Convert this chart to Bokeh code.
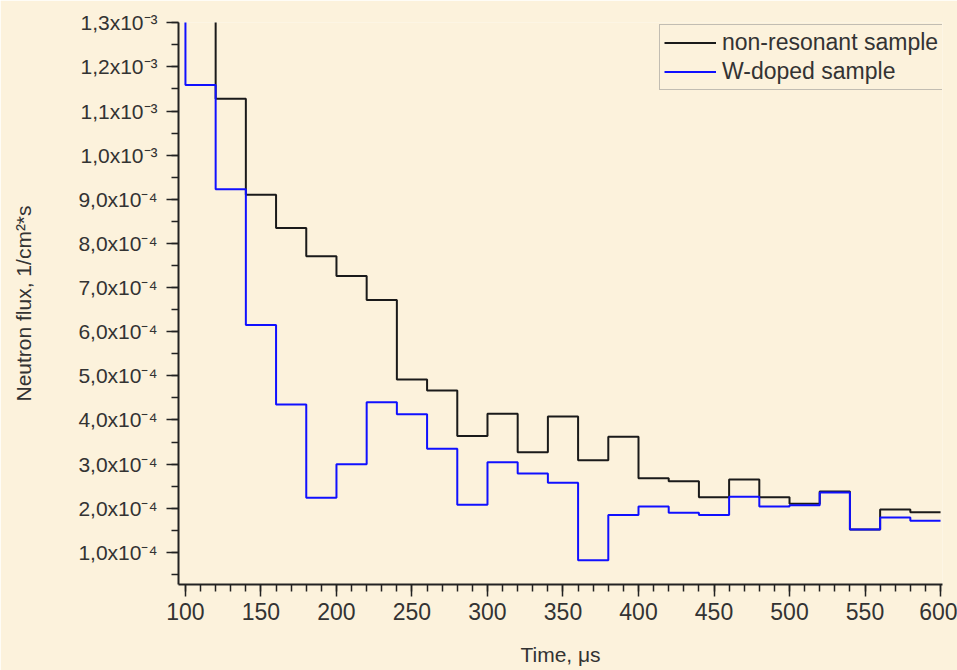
from bokeh.plotting import figure
from bokeh.models import SingleIntervalTicker, CustomJSTickFormatter, Range1d, Legend, LegendItem
from bokeh.embed import file_html
from bokeh.resources import INLINE

# bin edges (µs)
time_edges = [100, 120, 140, 160, 180, 200, 220, 240, 260, 280, 300, 320, 340, 360,
              380, 400, 420, 440, 460, 480, 500, 520, 540, 560, 580, 600]
# neutron flux per bin (1/cm^2*s); first bin is above the visible range
nonresonant = [1.45e-3, 1.128e-3, 9.10e-4, 8.35e-4, 7.71e-4, 7.26e-4, 6.72e-4, 4.92e-4,
               4.67e-4, 3.64e-4, 4.14e-4, 3.27e-4, 4.08e-4, 3.09e-4, 3.62e-4, 2.68e-4,
               2.61e-4, 2.25e-4, 2.65e-4, 2.25e-4, 2.10e-4, 2.38e-4, 1.52e-4, 1.97e-4, 1.91e-4]
w_doped_before = 1.45e-3  # level before t=100 µs (off-chart)
w_doped = [1.159e-3, 9.23e-4, 6.15e-4, 4.35e-4, 2.24e-4, 3.00e-4, 4.40e-4, 4.13e-4,
           3.35e-4, 2.08e-4, 3.04e-4, 2.79e-4, 2.58e-4, 0.82e-4, 1.85e-4, 2.04e-4,
           1.90e-4, 1.85e-4, 2.26e-4, 2.04e-4, 2.07e-4, 2.36e-4, 1.52e-4, 1.79e-4, 1.72e-4]

BG = "#FCF2DC"
FONT = "Liberation Sans"

p = figure(width=957, height=670, output_backend="svg", toolbar_location=None,
           x_range=Range1d(95.4, 601.3), y_range=Range1d(2.73e-5, 1.3005e-3),
           min_border_left=178, min_border_right=15, min_border_top=22, min_border_bottom=86)
p.background_fill_color = BG
p.border_fill_color = BG
p.outline_line_color = None
p.grid.visible = False

r_black = p.step(time_edges, [nonresonant[0]] + nonresonant, mode="before",
                 line_color="#1a1a1a", line_width=2)
r_blue = p.step(time_edges, [w_doped_before] + w_doped, mode="before",
                line_color="#1010ff", line_width=2)

xa = p.xaxis[0]
xa.ticker = SingleIntervalTicker(interval=50, num_minor_ticks=5)
xa.axis_label = "Time, μs"
ya = p.yaxis[0]
ya.ticker = SingleIntervalTicker(interval=1e-4, num_minor_ticks=2)
ya.axis_label = "Neutron flux, 1/cm²*s"
ya.formatter = CustomJSTickFormatter(code="""
const e = Math.floor(Math.log10(tick) + 1e-9);
const m = tick / Math.pow(10, e);
const sup = {'-':'\u207b','0':'\u2070','1':'\u00b9','2':'\u00b2','3':'\u00b3','4':'\u2074','5':'\u2075','6':'\u2076','7':'\u2077','8':'\u2078','9':'\u2079'};
const es = String(e).split('').map(c => sup[c]).join('');
return m.toFixed(1).replace('.', ',') + 'x10' + es;
""")

for ax in (xa, ya):
    ax.axis_line_color = "#222222"
    ax.axis_line_width = 2
    ax.major_tick_line_color = "#222222"
    ax.minor_tick_line_color = "#222222"
    ax.major_tick_line_width = 1.5
    ax.minor_tick_line_width = 1.5
    ax.major_tick_in = 0
    ax.minor_tick_in = 0
    ax.major_tick_out = 12
    ax.minor_tick_out = 7
    ax.major_label_text_font = FONT
    ax.major_label_text_color = "#333333"
    ax.axis_label_text_font = FONT
    ax.axis_label_text_font_size = "21px"
    ax.axis_label_text_font_style = "normal"
    ax.axis_label_text_color = "#333333"

xa.major_label_text_font_size = "23px"
ya.major_label_text_font_size = "21px"
xa.major_label_standoff = 6
xa.axis_label_standoff = 20
ya.major_label_standoff = 9
ya.axis_label_standoff = 40

legend = Legend(items=[LegendItem(label="non-resonant sample", renderers=[r_black]),
                       LegendItem(label="W-doped sample", renderers=[r_blue])],
                location=(481, 494))
legend.background_fill_color = BG
legend.background_fill_alpha = 1
legend.border_line_color = "#888888"
legend.border_line_width = 1.5
legend.label_text_font = FONT
legend.label_text_font_size = "23px"
legend.label_text_color = "#333333"
legend.glyph_width = 52
legend.glyph_height = 23
legend.label_height = 23
legend.label_standoff = 6
legend.spacing = 2
legend.padding = 4
legend.margin = 0
p.add_layout(legend)

open("out.html", "w").write(file_html(p, INLINE))
